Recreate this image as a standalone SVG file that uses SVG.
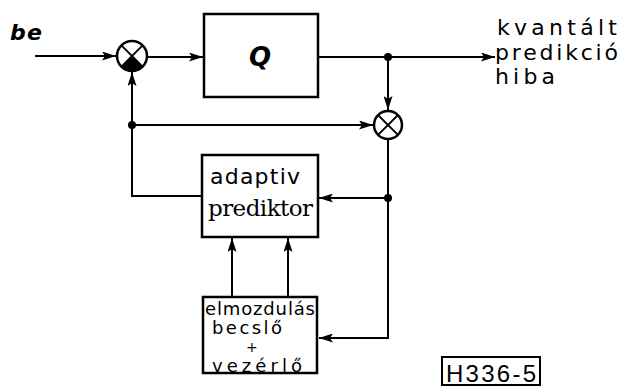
<svg xmlns="http://www.w3.org/2000/svg" width="623" height="387" viewBox="0 0 623 387">
<defs>
<marker id="ah" viewBox="0 0 14 9" refX="14" refY="4.5" markerWidth="14" markerHeight="9" markerUnits="userSpaceOnUse" orient="auto">
<path d="M0,0 L14,4.5 L0,9 L3,4.5 Z" fill="#000"/>
</marker>
</defs>
<style>
.ln{fill:none;stroke:#000;stroke-width:2}
.bx{fill:#fff;stroke:#000;stroke-width:2.5}
.t{font-family:"DejaVu Sans",sans-serif;fill:#000}
.dot{fill:#000}
</style>
<rect width="623" height="387" fill="#fff"/>
<g id="connectors">
<line class="ln" x1="35" y1="56" x2="116" y2="56" marker-end="url(#ah)"/>
<line class="ln" x1="147" y1="57" x2="203" y2="57" marker-end="url(#ah)"/>
<line class="ln" x1="318" y1="57" x2="495" y2="57" marker-end="url(#ah)"/>
<line class="ln" x1="388" y1="57" x2="388" y2="110" marker-end="url(#ah)"/>
<line class="ln" x1="132" y1="125" x2="373" y2="125" marker-end="url(#ah)"/>
<line class="ln" x1="132" y1="125" x2="132" y2="72" marker-end="url(#ah)"/>
<polyline class="ln" points="132,125 132,196 202,196"/>
<polyline class="ln" points="388,139 388,338 319,338" marker-end="url(#ah)"/>
<line class="ln" x1="388" y1="198" x2="319" y2="198" marker-end="url(#ah)"/>
<line class="ln" x1="232" y1="297" x2="232" y2="238" marker-end="url(#ah)"/>
<line class="ln" x1="288" y1="297" x2="288" y2="238" marker-end="url(#ah)"/>
<circle class="dot" cx="388" cy="57" r="4"/>
<circle class="dot" cx="132" cy="125" r="4"/>
<circle class="dot" cx="388" cy="198" r="4"/>
</g>
<g id="input-label">
<text class="t" x="10" y="40" font-style="italic" font-weight="bold" font-size="22" textLength="32">be</text>
</g>
<g id="sum1">
<circle cx="132" cy="56" r="15" fill="#fff" stroke="#000" stroke-width="2.5"/>
<path d="M132,56 L142.6,66.6 A15,15 0 0 1 121.4,66.6 Z" fill="#000"/>
<line class="ln" x1="121.4" y1="45.4" x2="142.6" y2="66.6"/>
<line class="ln" x1="142.6" y1="45.4" x2="121.4" y2="66.6"/>
</g>
<g id="Q">
<rect class="bx" x="204" y="14" width="114" height="83"/>
<text class="t" x="260" y="66" text-anchor="middle" font-style="italic" font-weight="bold" font-size="26">Q</text>
</g>
<g id="output-label">
<text class="t" x="497" y="35" font-size="22" textLength="120">kvantált</text>
<text class="t" x="495" y="60" font-size="22" textLength="123">predikció</text>
<text class="t" x="495" y="84" font-size="22" textLength="60">hiba</text>
</g>
<g id="sum2">
<circle cx="388" cy="125" r="14" fill="#fff" stroke="#000" stroke-width="2.5"/>
<line class="ln" x1="378.1" y1="115.1" x2="397.9" y2="134.9"/>
<line class="ln" x1="397.9" y1="115.1" x2="378.1" y2="134.9"/>
</g>
<g id="predictor">
<rect class="bx" x="202" y="155" width="116" height="82"/>
<text class="t" x="210" y="184" font-size="22" textLength="90">adaptiv</text>
<text x="208" y="216" font-family="DejaVu Serif, serif" font-size="23" textLength="105">prediktor</text>
</g>
<g id="estimator">
<rect class="bx" x="203" y="297" width="114" height="76"/>
<text class="t" x="205" y="315" font-size="18" textLength="110">elmozdulás</text>
<text class="t" x="212" y="334" font-size="18" textLength="70">becslő</text>
<text class="t" x="246" y="352" font-size="14">+</text>
<text class="t" x="212" y="372" font-size="18" textLength="90">vezérlő</text>
</g>
<g id="code">
<rect x="442" y="357" width="98" height="28" fill="#fff" stroke="#000" stroke-width="2"/>
<text x="446" y="382" font-family="Liberation Sans, sans-serif" font-size="24" textLength="90">H336-5</text>
</g>
</svg>
